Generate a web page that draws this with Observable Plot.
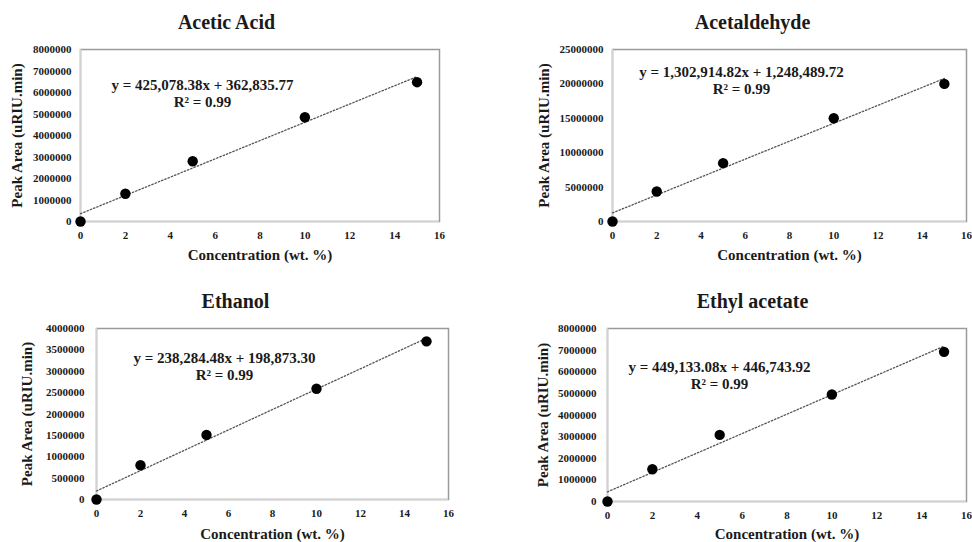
<!DOCTYPE html>
<html>
<head>
<meta charset="utf-8">
<script src="https://cdn.jsdelivr.net/npm/d3@7"></script>
<script src="https://cdn.jsdelivr.net/npm/@observablehq/plot@0.6"></script>
<style>
  html, body { margin: 0; padding: 0; background: #fff; }
  #chart { position: relative; width: 972px; height: 542px; overflow: hidden; }
  #chart svg { position: absolute; }
</style>
</head>
<body>
<div id="chart"></div>
<script>
// ---- data ----
const concentration = [0, 2, 5, 10, 15];
const aceticAcid   = [0, 1290000, 2800000, 4850000, 6480000];
const acetaldehyde = [0, 4360000, 8480000, 15000000, 20000000];
const ethanol      = [0, 800000, 1510000, 2590000, 3700000];
const ethylAcetate = [0, 1490000, 3080000, 4950000, 6920000];

const titles = ["Acetic Acid", "Acetaldehyde", "Ethanol", "Ethyl acetate"];
const slopes = [425078.38, 1302914.82, 238284.48, 449133.08];
const intercepts = [362835.77, 1248489.72, 198873.30, 446743.92];
const equationLabels = [
  "y = 425,078.38x + 362,835.77",
  "y = 1,302,914.82x + 1,248,489.72",
  "y = 238,284.48x + 198,873.30",
  "y = 449,133.08x + 446,743.92"
];
const r2Labels = ["R² = 0.99", "R² = 0.99", "R² = 0.99", "R² = 0.99"];
const yMaxes = [8000000, 25000000, 4000000, 8000000];
const ySteps = [1000000, 5000000, 500000, 1000000];
const xTicks = [0, 2, 4, 6, 8, 10, 12, 14, 16];
const xLabel = "Concentration (wt. %)";
const yLabel = "Peak Area (uRIU.min)";
const series = [aceticAcid, acetaldehyde, ethanol, ethylAcetate];

// ---- layout (positions / styles) ----
const layout = [
  {left: 0,   top: 0,   mL: 80,  mR: 47, mT: 49, mB: 50, yPad: 9,  titleDx: -33.5, eqDx: 122, eqDy: 36, yLabDx: -63, xLabDy: 34},
  {left: 486, top: 0,   mL: 126, mR: 6,  mT: 49, mB: 50, yPad: 9,  titleDx: -37,   eqDx: 129, eqDy: 23, yLabDx: -68, xLabDy: 34},
  {left: 0,   top: 271, mL: 96,  mR: 38, mT: 57, mB: 43, yPad: 12, titleDx: -37,   eqDx: 128, eqDy: 30, yLabDx: -69, xLabDy: 35},
  {left: 486, top: 271, mL: 121, mR: 6,  mT: 57, mB: 41, yPad: 11, titleDx: -34.5, eqDx: 112, eqDy: 39, yLabDx: -64, xLabDy: 33}
];
const serif = "'Liberation Serif', 'Times New Roman', 'DejaVu Serif', serif";
const textColor = "#1a1a1a";

const container = document.getElementById("chart");

series.forEach((vals, i) => {
  const L = layout[i];
  const pts = concentration.map((c, j) => ({x: c, y: vals[j]}));
  const x0 = concentration[0], x1 = concentration[concentration.length - 1];
  const trend = [
    {x: x0, y: slopes[i] * x0 + intercepts[i]},
    {x: x1, y: slopes[i] * x1 + intercepts[i]}
  ];
  const yTicks = d3.range(0, yMaxes[i] + ySteps[i] / 2, ySteps[i]);

  const svg = Plot.plot({
    width: 486,
    height: 271,
    marginLeft: L.mL,
    marginRight: L.mR,
    marginTop: L.mT,
    marginBottom: L.mB,
    style: {fontFamily: serif, fontWeight: "bold", fontSize: "11px", color: textColor, background: "transparent", overflow: "visible"},
    x: {domain: [0, 16]},
    y: {domain: [0, yMaxes[i]]},
    marks: [
      Plot.frame({stroke: "#9a9a9a", strokeWidth: 1.5}),
      Plot.ruleY([0], {stroke: "#d2d2d2", strokeWidth: 1.5}),
      Plot.ruleX([0], {stroke: "#d2d2d2", strokeWidth: 1.5}),
      Plot.axisX({ticks: xTicks, tickSize: 0, tickPadding: 10, tickFormat: d3.format("d"), label: null, fontSize: 11}),
      Plot.axisY({ticks: yTicks, tickSize: 0, tickPadding: L.yPad, tickFormat: d3.format("d"), label: null, fontSize: 11}),
      Plot.line(trend, {x: "x", y: "y", stroke: "#555", strokeWidth: 1.3, strokeDasharray: "1.5,2"}),
      Plot.dot(pts, {x: "x", y: "y", r: 5.2, fill: "#000", stroke: "none"}),
      Plot.text([equationLabels[i]], {frameAnchor: "top-left", dx: L.eqDx, dy: L.eqDy, text: d => d, textAnchor: "middle", lineAnchor: "middle", fontSize: 15, fontWeight: "bold", fill: textColor}),
      Plot.text([r2Labels[i]], {frameAnchor: "top-left", dx: L.eqDx, dy: L.eqDy + 17, text: d => d, textAnchor: "middle", lineAnchor: "middle", fontSize: 15, fontWeight: "bold", fill: textColor}),
      Plot.text([titles[i]], {frameAnchor: "top", dx: L.titleDx, dy: -27, text: d => d, textAnchor: "middle", lineAnchor: "middle", fontSize: 20, fontWeight: "bold", fill: textColor}),
      Plot.text([xLabel], {frameAnchor: "bottom", dy: L.xLabDy, text: d => d, textAnchor: "middle", lineAnchor: "middle", fontSize: 15, fontWeight: "bold", fill: textColor}),
      Plot.text([yLabel], {frameAnchor: "left", dx: L.yLabDx, text: d => d, rotate: -90, textAnchor: "middle", lineAnchor: "middle", fontSize: 15, fontWeight: "bold", fill: textColor})
    ]
  });
  svg.style.left = L.left + "px";
  svg.style.top = L.top + "px";
  container.appendChild(svg);
});
</script>
</body>
</html>
